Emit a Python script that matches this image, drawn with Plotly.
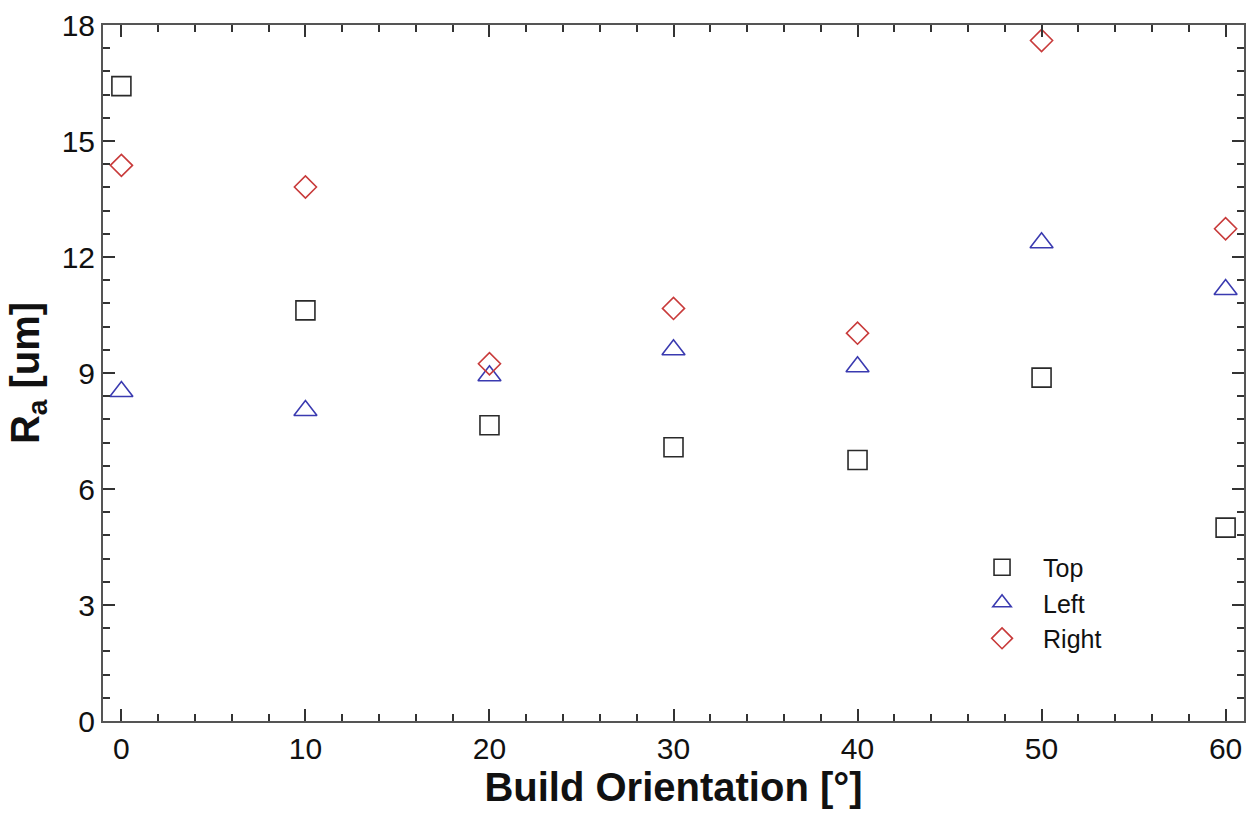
import plotly.graph_objects as go

orientation = [0, 10, 20, 30, 40, 50, 60]
ra_top = [16.42, 10.62, 7.65, 7.08, 6.75, 8.88, 5.00]
ra_left = [8.52, 8.03, 8.93, 9.60, 9.16, 12.37, 11.16]
ra_right = [14.37, 13.81, 9.24, 10.67, 10.03, 17.60, 12.73]

x_ticks = [0, 10, 20, 30, 40, 50, 60]
y_ticks = [0, 3, 6, 9, 12, 15, 18]

FONT = "Liberation Sans, Arial, sans-serif"

fig = go.Figure()
fig.add_trace(go.Scatter(x=orientation, y=ra_top, mode="markers", name="Top",
                         marker=dict(symbol="square-open", size=19, color="#2a2a2a",
                                     line=dict(width=1.6, color="#2a2a2a"))))
fig.add_trace(go.Scatter(x=orientation, y=ra_left, mode="markers", name="Left",
                         marker=dict(symbol="triangle-up-open", size=20, color="#3a3ab0",
                                     line=dict(width=1.6, color="#3a3ab0"))))
fig.add_trace(go.Scatter(x=orientation, y=ra_right, mode="markers", name="Right",
                         marker=dict(symbol="diamond-open", size=17, color="#c83a3a",
                                     line=dict(width=1.6, color="#c83a3a"))))

axis_common = dict(showline=True, linecolor="#555555", linewidth=2, mirror="ticks",
                   ticks="inside", ticklen=12, tickwidth=2, tickcolor="#333333",
                   showgrid=False, zeroline=False,
                   tickfont=dict(family=FONT, size=30, color="#111111"))

fig.update_xaxes(range=[-1, 61], tickvals=x_ticks,
                 minor=dict(ticks="inside", ticklen=7, tickwidth=2, tickcolor="#333333", dtick=2),
                 title=dict(text="<b>Build Orientation [°]</b>",
                            font=dict(family=FONT, size=40, color="#111111"),
                            standoff=6),
                 **axis_common)
fig.update_yaxes(range=[0, 18], tickvals=y_ticks,
                 minor=dict(ticks="inside", ticklen=7, tickwidth=2, tickcolor="#333333", dtick=0.6),
                 title=dict(text="<b>R<sub>a</sub> [um]</b>",
                            font=dict(family=FONT, size=40, color="#111111"),
                            standoff=10),
                 **axis_common)

fig.update_layout(
    width=1254, height=821,
    margin=dict(l=103, r=8, t=18, b=100),
    plot_bgcolor="white", paper_bgcolor="white",
    showlegend=True,
    legend=dict(x=0.752, y=0.2535, xanchor="left", yanchor="top",
                bgcolor="rgba(0,0,0,0)", itemwidth=72,
                font=dict(family=FONT, size=25, color="#111111"),
                tracegroupgap=0),
)

fig.write_html("out.html", config={"displayModeBar": False},
               post_script="document.body.style.margin='0';document.body.style.overflow='hidden';")
